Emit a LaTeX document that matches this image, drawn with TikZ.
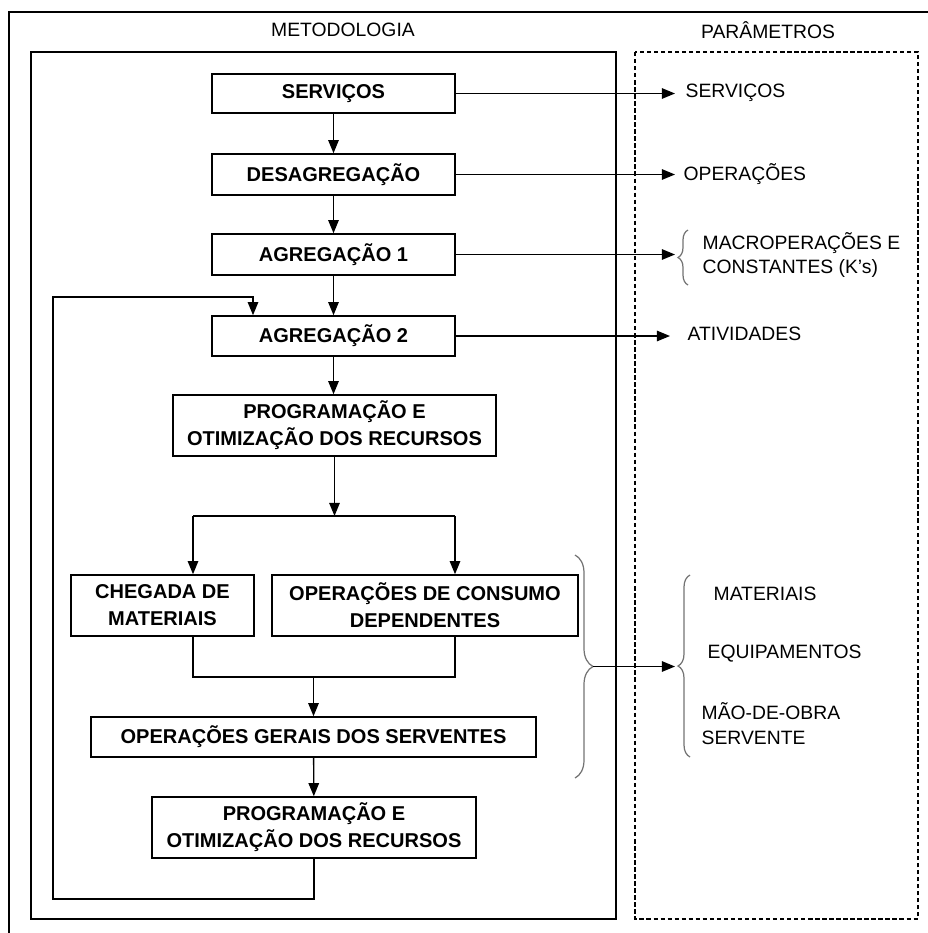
\documentclass[tikz,border=0pt]{standalone}
\usepackage{fontspec}
\setmainfont{Liberation Sans}
\usetikzlibrary{arrows.meta}
\usetikzlibrary{decorations.pathreplacing}

\begin{document}
\begin{tikzpicture}[x=0.02cm, y=-0.02cm, line width=0.75pt, >={Triangle[length=7.5pt,width=6pt]},
  etapa/.style={draw, line width=0.9pt, rectangle, inner sep=0pt, align=center, font=\bfseries\fontsize{11.4}{15.4}\selectfont},
  param/.style={inner sep=0pt, anchor=west, align=left, font=\fontsize{11}{14.2}\selectfont},
  titulo/.style={inner sep=0pt, font=\fontsize{11}{13}\selectfont},
  chave/.style={decorate, draw=black!55, line width=0.7pt}]
		\useasboundingbox (0,0) rectangle (928,933);
		
		% molduras
		\draw[line width=0.9pt] (9,933) -- (9,12) -- (928,12);
		\draw[line width=0.9pt] (31,52) rectangle (616,919);
		\draw[line width=0.9pt, dash pattern=on 2.5pt off 1.5pt] (635,52) rectangle (918,919);
		
		\node[titulo](tmet) at (343,30) {METODOLOGIA};
		\node[titulo](tpar) at (768,30) {PARÂMETROS};
		
		% metodologia
		\node[etapa, minimum width=4.86cm, minimum height=0.78cm](serv) at (333.5,93.5) {SERVIÇOS};
		\node[etapa, minimum width=4.86cm, minimum height=0.82cm](desag) at (333.5,174.5) {DESAGREGAÇÃO};
		\node[etapa, minimum width=4.86cm, minimum height=0.82cm](agr1) at (333.5,254.5) {AGREGAÇÃO 1};
		\node[etapa, minimum width=4.86cm, minimum height=0.8cm](agr2) at (333.5,336) {AGREGAÇÃO 2};
		\node[etapa, minimum width=6.46cm, minimum height=1.22cm](prog1) at (334.5,425.5) {PROGRAMAÇÃO E\\OTIMIZAÇÃO DOS RECURSOS};
		\node[etapa, minimum width=3.66cm, minimum height=1.22cm](cheg) at (162.5,605.5) {CHEGADA DE\\MATERIAIS};
		\node[etapa, minimum width=6.12cm, minimum height=1.22cm](opcons) at (425,605.5) {OPERAÇÕES DE CONSUMO\\DEPENDENTES};
		\node[etapa, minimum width=8.9cm, minimum height=0.8cm](opger) at (313.5,737) {OPERAÇÕES GERAIS DOS SERVENTES};
		\node[etapa, minimum width=6.48cm, minimum height=1.22cm](prog2) at (314,827.5) {PROGRAMAÇÃO E\\OTIMIZAÇÃO DOS RECURSOS};
		
		\coordinate (divE) at (193,516);
		\coordinate (divD) at (455,516);
		\coordinate (junE) at (193,677);
		\coordinate (junD) at (455,677);
		\coordinate (retB) at (53,899);
		\coordinate (retT) at (253,297);
		
		\draw[->] (serv) -- (desag);
		\draw[->] (desag) -- (agr1);
		\draw[->] (agr1) -- (agr2);
		\draw[->] (agr2.south) -- (agr2.south |- prog1.north);
		\draw[->] (prog1.south) -- (prog1.south |- divE);
		\draw (divE) -- (divD);
		\draw[->] (divE) -- (divE |- cheg.north);
		\draw[->] (divD) -- (divD |- opcons.north);
		\draw (junE |- cheg.south) -- (junE) -- (junD) -- (junD |- opcons.south);
		\draw[->] (opger.north |- junE) -- (opger.north);
		\draw[->] (opger) -- (prog2);
		\draw[->] (prog2.south) -- (prog2.south |- retB) -- (retB) -- (retB |- retT) -- (retT) -- (retT |- agr2.north);
		
		% parametros
		\coordinate (ponta) at (675,0);
		\node[param](pserv) at (685,93) {SERVIÇOS};
		\node[param](pop) at (683,174) {OPERAÇÕES};
		\node[param](pmacro) at (702,255) {MACROPERAÇÕES E\\CONSTANTES (K’s)};
		\node[param](pativ) at (687,334) {ATIVIDADES};
		\node[param](pmat) at (713,594) {MATERIAIS};
		\node[param](pequip) at (707,654) {EQUIPAMENTOS};
		\node[param](pmao) at (701,724) {MÃO-DE-OBRA\\SERVENTE};
		
		\draw[->] (serv.east) -- (serv.east -| ponta);
		\draw[->] (desag.east) -- (desag.east -| ponta);
		\draw[->] (agr1.east) -- (agr1.east -| ponta);
		\draw[->] (agr2.east) -- ([xshift=-0.1cm]agr2.east -| ponta);
		
		\draw[chave, decoration={brace, amplitude=0.2cm}] (688,285) -- (688,230);
		\draw[chave, decoration={brace, amplitude=0.36cm}] (575,555) -- (575,778);
		\draw[chave, decoration={brace, amplitude=0.24cm}] (690,757) -- (690,575);
		\coordinate (chaveR) at (593,666.5);
		\draw[->] (chaveR) -- (chaveR -| ponta);
\end{tikzpicture}
\end{document}
